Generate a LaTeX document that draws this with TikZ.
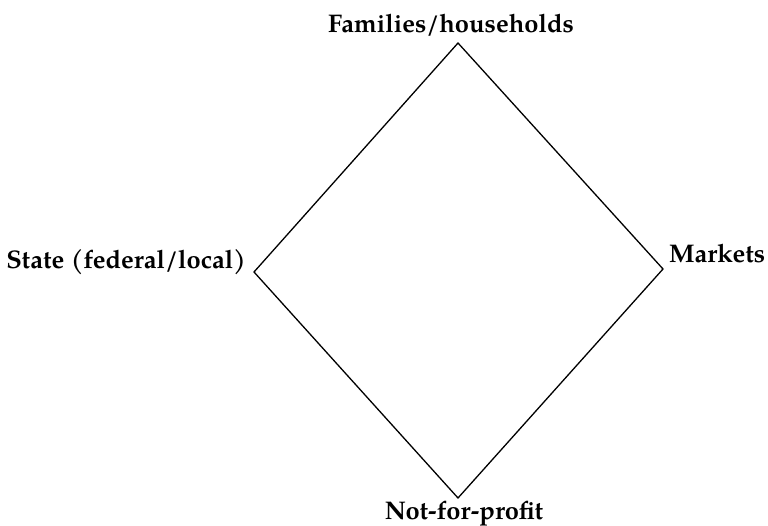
\documentclass[tikz,border=0pt]{standalone}
\usepackage{fontspec}
\setmainfont{TeX Gyre Pagella}
\begin{document}
\begin{tikzpicture}[x=1pt,y=-1pt,
  lbl/.style={font=\fontsize{25.5}{30}\selectfont\bfseries, inner sep=0pt},
  edge/.style={draw=black, line width=1.3pt, line join=miter}]
\useasboundingbox (0,0) rectangle (768,526);
\coordinate (T) at (458,43);
\coordinate (R) at (663,269);
\coordinate (B) at (458,498);
\coordinate (L) at (254,272);
\draw[edge] (T) -- (R) -- (B) -- (L) -- cycle;
\node[lbl, anchor=base] (fam) at (451,33) {Families/households};
\node[lbl, anchor=base east] (state) at (246,269) {State (federal/local)};
\node[lbl, anchor=base west] (mkt) at (669,263) {Markets};
\node[lbl, anchor=base] (nfp) at (464,519) {Not-for-profit};
\end{tikzpicture}
\end{document}
